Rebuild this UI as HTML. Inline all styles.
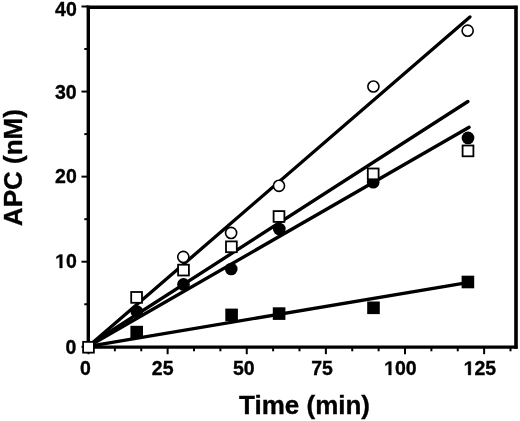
<!DOCTYPE html>
<html><head><meta charset="utf-8"><style>
html,body{margin:0;padding:0;background:#fff;}
svg{display:block;will-change:transform;}
.tl{font-family:"Liberation Sans",sans-serif;font-weight:bold;font-size:19.5px;fill:#000;stroke:#000;stroke-width:0.35px;}
.hid{fill-opacity:0;stroke-opacity:0;}
.tt{font-family:"Liberation Sans",sans-serif;font-weight:bold;font-size:26px;fill:#000;stroke:#000;stroke-width:0.35px;}
</style></head><body>
<svg width="520" height="421" viewBox="0 0 520 421">
<path d="M88.3,5.8 L88.3,348.7" stroke="#000" stroke-width="3.4"/>
<path d="M86.8,7.3 L517.5,7.3" stroke="#000" stroke-width="3.5"/>
<path d="M516.0,5.8 L516.0,348.7" stroke="#000" stroke-width="3.6"/>
<path d="M86.8,347.2 L517.5,347.2" stroke="#000" stroke-width="3.3"/>
<path d="M81.5,346.80 L88.3,346.80" stroke="#000" stroke-width="2"/>
<path d="M84.3,304.26 L88.3,304.26" stroke="#000" stroke-width="2"/>
<path d="M81.5,261.72 L88.3,261.72" stroke="#000" stroke-width="2"/>
<path d="M84.3,219.18 L88.3,219.18" stroke="#000" stroke-width="2"/>
<path d="M81.5,176.64 L88.3,176.64" stroke="#000" stroke-width="2"/>
<path d="M84.3,134.10 L88.3,134.10" stroke="#000" stroke-width="2"/>
<path d="M81.5,91.56 L88.3,91.56" stroke="#000" stroke-width="2"/>
<path d="M84.3,49.02 L88.3,49.02" stroke="#000" stroke-width="2"/>
<path d="M81.5,6.48 L88.3,6.48" stroke="#000" stroke-width="2"/>
<path d="M88.50,347.2 L88.50,354.2" stroke="#000" stroke-width="2"/>
<path d="M114.88,347.2 L114.88,351.3" stroke="#000" stroke-width="2"/>
<path d="M141.25,347.2 L141.25,351.3" stroke="#000" stroke-width="2"/>
<path d="M167.62,347.2 L167.62,354.2" stroke="#000" stroke-width="2"/>
<path d="M194.00,347.2 L194.00,351.3" stroke="#000" stroke-width="2"/>
<path d="M220.38,347.2 L220.38,351.3" stroke="#000" stroke-width="2"/>
<path d="M246.75,347.2 L246.75,354.2" stroke="#000" stroke-width="2"/>
<path d="M273.12,347.2 L273.12,351.3" stroke="#000" stroke-width="2"/>
<path d="M299.50,347.2 L299.50,351.3" stroke="#000" stroke-width="2"/>
<path d="M325.88,347.2 L325.88,354.2" stroke="#000" stroke-width="2"/>
<path d="M352.25,347.2 L352.25,351.3" stroke="#000" stroke-width="2"/>
<path d="M378.62,347.2 L378.62,351.3" stroke="#000" stroke-width="2"/>
<path d="M405.00,347.2 L405.00,354.2" stroke="#000" stroke-width="2"/>
<path d="M431.38,347.2 L431.38,351.3" stroke="#000" stroke-width="2"/>
<path d="M457.75,347.2 L457.75,351.3" stroke="#000" stroke-width="2"/>
<path d="M484.12,347.2 L484.12,354.2" stroke="#000" stroke-width="2"/>
<path d="M510.50,347.2 L510.50,351.3" stroke="#000" stroke-width="2"/>
<text x="55.05" y="16.00" class="tl">40</text>
<text x="55.00" y="99.00" class="tl">30</text>
<text x="55.05" y="183.00" class="tl">20</text>
<text x="55.10" y="268.00" class="tl"><tspan class="hid">1</tspan>0</text>
<path transform="translate(55.10,268.00) scale(0.009521,-0.009521)" d="M478 0L478 1170L140 959L140 1180L493 1409L759 1409L759 0Z" fill="#000" stroke="#000" stroke-width="36.8"/>
<text x="65.55" y="354.00" class="tl">0</text>
<text x="80.10" y="375.00" class="tl">0</text>
<text x="151.80" y="375.00" class="tl">25</text>
<text x="232.95" y="375.00" class="tl">50</text>
<text x="311.15" y="375.00" class="tl">75</text>
<text x="384.10" y="375.00" class="tl"><tspan class="hid">1</tspan>00</text>
<path transform="translate(384.10,375.00) scale(0.009521,-0.009521)" d="M478 0L478 1170L140 959L140 1180L493 1409L759 1409L759 0Z" fill="#000" stroke="#000" stroke-width="36.8"/>
<text x="463.60" y="375.00" class="tl"><tspan class="hid">1</tspan>25</text>
<path transform="translate(463.60,375.00) scale(0.009521,-0.009521)" d="M478 0L478 1170L140 959L140 1180L493 1409L759 1409L759 0Z" fill="#000" stroke="#000" stroke-width="36.8"/>
<text x="239.05" y="414.05" class="tt">Time (min)</text>
<text transform="translate(22.15,226.15) rotate(-90)" class="tt">APC (nM)</text>
<path d="M88.5,346.3 L469.9,16.9" stroke="#000" stroke-width="3.3" stroke-linecap="round"/>
<path d="M88.5,345.5 L467.9,101.5" stroke="#000" stroke-width="3.3" stroke-linecap="round"/>
<path d="M88.5,346.3 L469.1,127.19999999999999" stroke="#000" stroke-width="3.3" stroke-linecap="round"/>
<path d="M88.5,346.3 L466.0,282.9" stroke="#000" stroke-width="3.3" stroke-linecap="round"/>
<rect x="130.40" y="325.80" width="12.6" height="12.6" fill="#000"/>
<rect x="225.30" y="308.60" width="12.6" height="12.6" fill="#000"/>
<rect x="272.80" y="307.30" width="12.6" height="12.6" fill="#000"/>
<rect x="367.20" y="301.50" width="12.6" height="12.6" fill="#000"/>
<rect x="461.60" y="275.70" width="12.6" height="12.6" fill="#000"/>
<circle cx="136.80" cy="311.50" r="6.35" fill="#000"/>
<circle cx="183.50" cy="284.40" r="6.35" fill="#000"/>
<circle cx="231.20" cy="269.00" r="6.35" fill="#000"/>
<circle cx="279.30" cy="229.00" r="6.35" fill="#000"/>
<circle cx="373.20" cy="182.20" r="6.35" fill="#000"/>
<circle cx="468.00" cy="137.90" r="6.35" fill="#000"/>
<circle cx="183.30" cy="256.90" r="5.55" fill="#fff" stroke="#000" stroke-width="1.6"/>
<circle cx="231.10" cy="232.90" r="5.55" fill="#fff" stroke="#000" stroke-width="1.6"/>
<circle cx="279.00" cy="185.80" r="5.55" fill="#fff" stroke="#000" stroke-width="1.6"/>
<circle cx="373.40" cy="86.50" r="5.55" fill="#fff" stroke="#000" stroke-width="1.6"/>
<circle cx="467.65" cy="30.70" r="5.55" fill="#fff" stroke="#000" stroke-width="1.6"/>
<rect x="83.10" y="341.85" width="10.80" height="10.80" fill="#fff" stroke="#000" stroke-width="1.8"/>
<rect x="131.20" y="292.00" width="10.80" height="10.80" fill="#fff" stroke="#000" stroke-width="1.8"/>
<rect x="178.10" y="264.70" width="10.80" height="10.80" fill="#fff" stroke="#000" stroke-width="1.8"/>
<rect x="226.00" y="241.40" width="10.80" height="10.80" fill="#fff" stroke="#000" stroke-width="1.8"/>
<rect x="273.60" y="211.10" width="10.80" height="10.80" fill="#fff" stroke="#000" stroke-width="1.8"/>
<rect x="367.80" y="168.50" width="10.80" height="10.80" fill="#fff" stroke="#000" stroke-width="1.8"/>
<rect x="462.60" y="145.50" width="10.80" height="10.80" fill="#fff" stroke="#000" stroke-width="1.8"/>
</svg>
</body></html>
